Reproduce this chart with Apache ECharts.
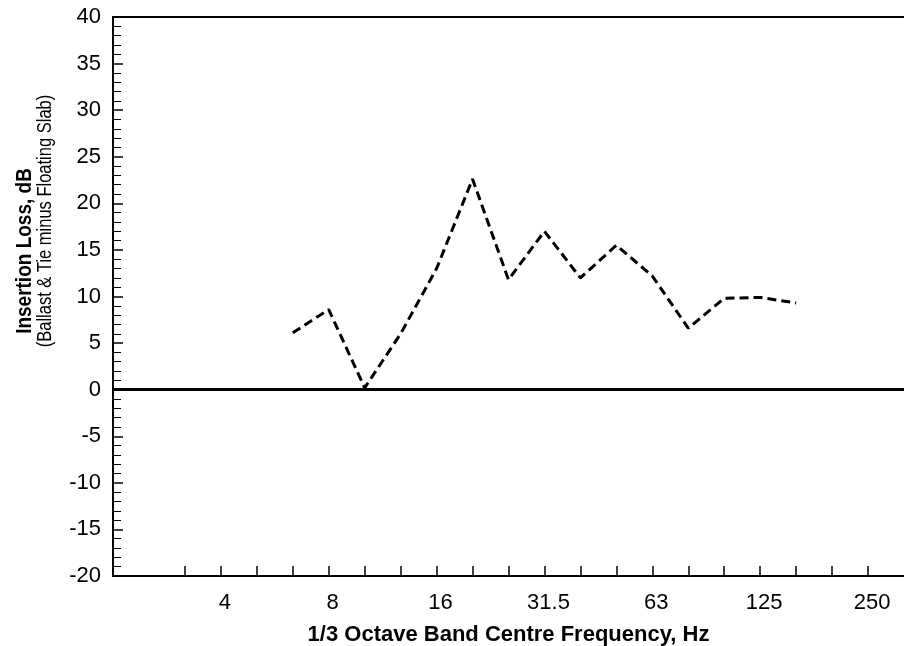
<!DOCTYPE html>
<html>
<head>
<meta charset="utf-8">
<script src="https://cdn.jsdelivr.net/npm/echarts@6/dist/echarts.min.js"></script>
<style>
  html, body { margin: 0; padding: 0; background: #fff; }
  #chart { width: 904px; height: 646px; }
</style>
</head>
<body>
<div id="chart"></div>
<script>
// 1/3 octave band centre frequencies (Hz)
const bands = ['2', '2.5', '3.15', '4', '5', '6.3', '8', '10', '12.5', '16', '20', '25',
  '31.5', '40', '50', '63', '80', '100', '125', '160', '200', '250', '315']
const shownLabels = ['4', '8', '16', '31.5', '63', '125', '250']
// insertion loss (dB), null where not measured
const insertionLoss = [null, null, null, null, null, 6.1, 8.6, 0.2, 6.0, 13.0, 22.6, 11.8,
  17.0, 12.0, 15.5, 12.2, 6.6, 9.8, 9.9, 9.3, null, null, null]
const yTicks = { min: -20, max: 40, interval: 5 }

const font = 'Arial, "Liberation Sans", sans-serif'
const chart = echarts.init(document.getElementById('chart'), null, { renderer: 'canvas' })

chart.setOption({
  animation: false,
  backgroundColor: '#fff',
  grid: { left: 113, right: 0, top: 17, bottom: 70, containLabel: false, outerBoundsMode: 'none' },
  xAxis: [{
    type: 'category',
    data: bands,
    boundaryGap: false,
    name: '1/3 Octave Band Centre Frequency, Hz',
    nameLocation: 'middle',
    nameGap: 48,
    nameTextStyle: { color: '#000', fontSize: 22, fontWeight: 'bold', fontFamily: font },
    axisLine: { onZero: false, lineStyle: { color: '#000', width: 2 } },
    axisTick: {
      inside: true,
      length: 10,
      lineStyle: { color: '#000', width: 1.5 },
      interval: (idx) => idx >= 2 && idx <= 21
    },
    axisLabel: {
      color: '#000',
      fontSize: 22,
      fontFamily: font,
      margin: 16,
      padding: [0, 0, 0, 8],
      interval: (idx, val) => shownLabels.includes(val)
    },
    splitLine: { show: false }
  }, {
    type: 'category',
    data: bands,
    boundaryGap: false,
    position: 'top',
    axisLine: { onZero: false, lineStyle: { color: '#000', width: 2 } },
    axisTick: { show: false },
    axisLabel: { show: false },
    splitLine: { show: false }
  }],
  yAxis: {
    type: 'value',
    min: yTicks.min,
    max: yTicks.max,
    interval: yTicks.interval,
    axisLine: { show: true, onZero: false, lineStyle: { color: '#000', width: 2 } },
    axisTick: { show: true, inside: true, length: 10, lineStyle: { color: '#000', width: 1.5 } },
    minorTick: { show: true, splitNumber: 5, length: 8, lineStyle: { color: '#000', width: 1 } },
    axisLabel: { color: '#000', fontSize: 22, fontFamily: font, margin: 12 },
    splitLine: { show: false }
  },
  graphic: [
    {
      type: 'text',
      x: 25, y: 251,
      rotation: Math.PI / 2,
      scaleY: 1.2,
      style: {
        text: 'Insertion Loss, dB',
        font: 'bold 19px ' + font,
        fill: '#000',
        align: 'center',
        verticalAlign: 'middle'
      }
    },
    {
      type: 'text',
      x: 46, y: 221,
      rotation: Math.PI / 2,
      scaleY: 1.2,
      style: {
        text: '(Ballast & Tie minus Floating Slab)',
        font: '16.5px ' + font,
        fill: '#000',
        align: 'center',
        verticalAlign: 'middle'
      }
    }
  ],
  series: [{
    name: 'Insertion Loss',
    type: 'line',
    data: insertionLoss,
    showSymbol: false,
    symbol: 'none',
    lineStyle: { color: '#000', width: 3, type: [9, 5] },
    markLine: {
      silent: true,
      symbol: ['none', 'none'],
      label: { show: false },
      lineStyle: { color: '#000', width: 3, type: 'solid' },
      data: [{ yAxis: 0 }]
    }
  }]
})
</script>
</body>
</html>
